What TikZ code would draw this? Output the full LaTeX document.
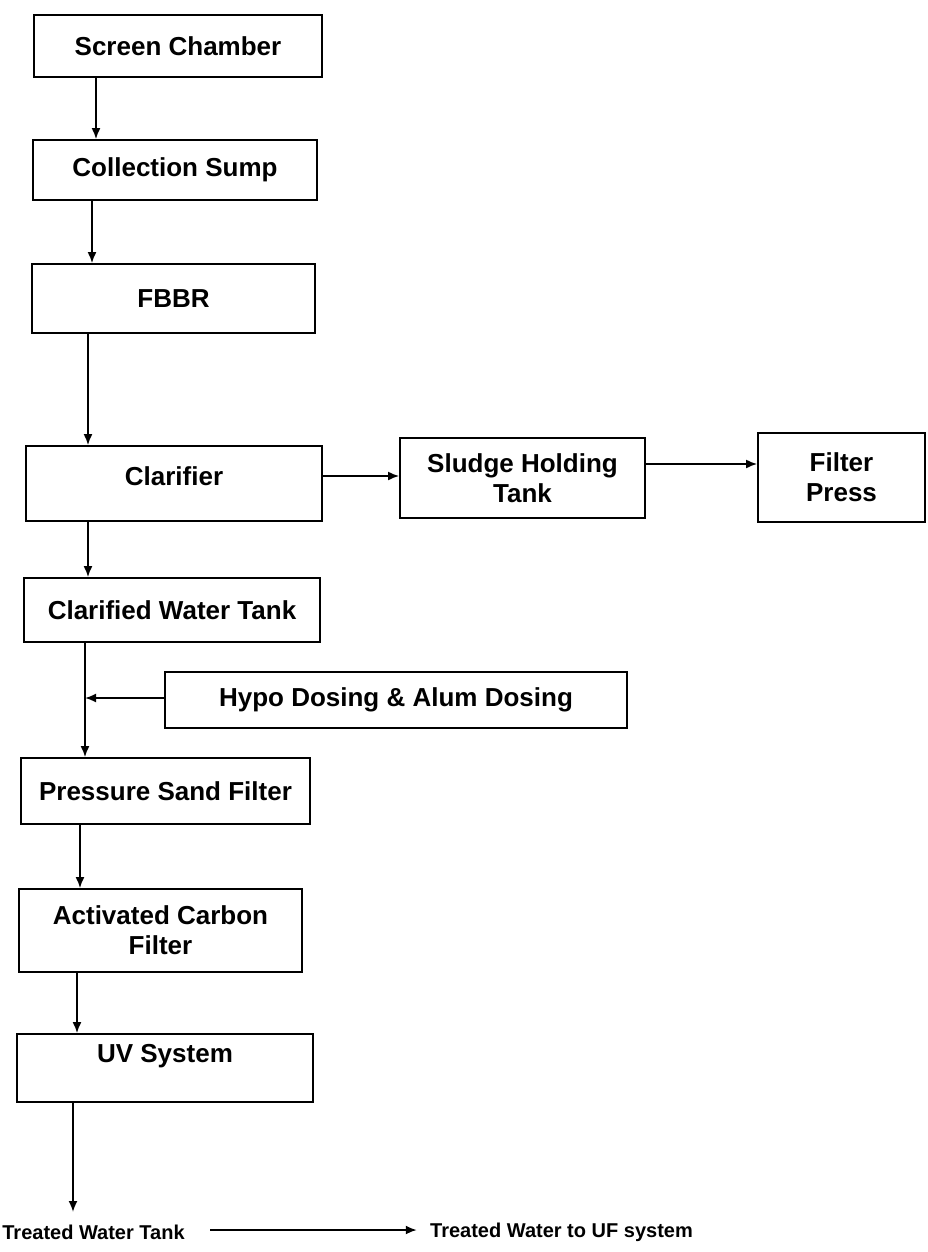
\documentclass[tikz,border=0pt]{standalone}
\usepackage{fontspec}
\setmainfont{Liberation Sans}
\usetikzlibrary{arrows.meta}
\begin{document}
\begin{tikzpicture}[x=0.5pt,y=-0.5pt,
  box/.style={draw, line width=0.9pt, align=center, inner sep=0pt,
    font=\bfseries\fontsize{13}{15}\selectfont},
  flow/.style={draw, line width=0.9pt, -{Latex[length=5.5pt,width=4.5pt]}},
  plain/.style={inner sep=0pt, font=\bfseries\fontsize{10}{12}\selectfont}]
\useasboundingbox (0,0) rectangle (927,1252);
% boxes
\node[box, minimum width=144pt, minimum height=31pt] (sc) at (178,46) {Screen Chamber};
\node[box, minimum width=142pt, minimum height=30pt] (cs) at (175,170) {Collection Sump};
\node[box, minimum width=141.5pt, minimum height=34.5pt] (fbbr) at (173.5,298.5) {FBBR};
\node[box, minimum width=148pt, minimum height=37.5pt] (cl) at (174,483.5) {Clarifier\\[-7.5pt]\mbox{}};
\node[box, minimum width=122.5pt, minimum height=40pt] (sht) at (522.5,478) {Sludge Holding\\Tank};
\node[box, minimum width=83.5pt, minimum height=44.5pt] (fp) at (841.5,477.5) {Filter\\Press};
\node[box, minimum width=148pt, minimum height=32pt] (cwt) at (172,610) {Clarified Water Tank};
\node[box, minimum width=231pt, minimum height=28pt] (hypo) at (396,700) {Hypo Dosing \& Alum Dosing};
\node[box, minimum width=144.5pt, minimum height=33pt] (psf) at (165.5,791) {Pressure Sand Filter};
\node[box, minimum width=141.5pt, minimum height=41.5pt] (acf) at (160.5,930.5) {Activated Carbon\\Filter};
\node[box, minimum width=148pt, minimum height=34pt] (uv) at (165,1068) {UV System\\\mbox{}};
% bottom texts
\node[plain] (twt) at (93.5,1232) {Treated Water Tank};
\node[plain] (uf) at (561.5,1232) {Treated Water to UF system};
% junction and end coordinates
\coordinate (j) at (85,698);
\coordinate (tend) at (73,1212);
% connectors
\draw[flow] (96,0 |- sc.south) -- (96,0 |- cs.north);
\draw[flow] (92,0 |- cs.south) -- (92,0 |- fbbr.north);
\draw[flow] (88,0 |- fbbr.south) -- (88,0 |- cl.north);
\draw[flow] (88,0 |- cl.south) -- (88,0 |- cwt.north);
\draw[flow] (cl.east |- 0,476) -- (sht.west |- 0,476);
\draw[flow] (sht.east |- 0,464) -- (fp.west |- 0,464);
\draw[flow] (85,0 |- cwt.south) -- (85,0 |- psf.north);
\draw[flow] (hypo.west |- j) -- (j);
\draw[flow] (80,0 |- psf.south) -- (80,0 |- acf.north);
\draw[flow] (77,0 |- acf.south) -- (77,0 |- uv.north);
\draw[flow] (73,0 |- uv.south) -- (tend);
\draw[flow, shorten <=12.5pt, shorten >=6.5pt] (twt.east |- 0,1230) -- (uf.west |- 0,1230);
\end{tikzpicture}
\end{document}
